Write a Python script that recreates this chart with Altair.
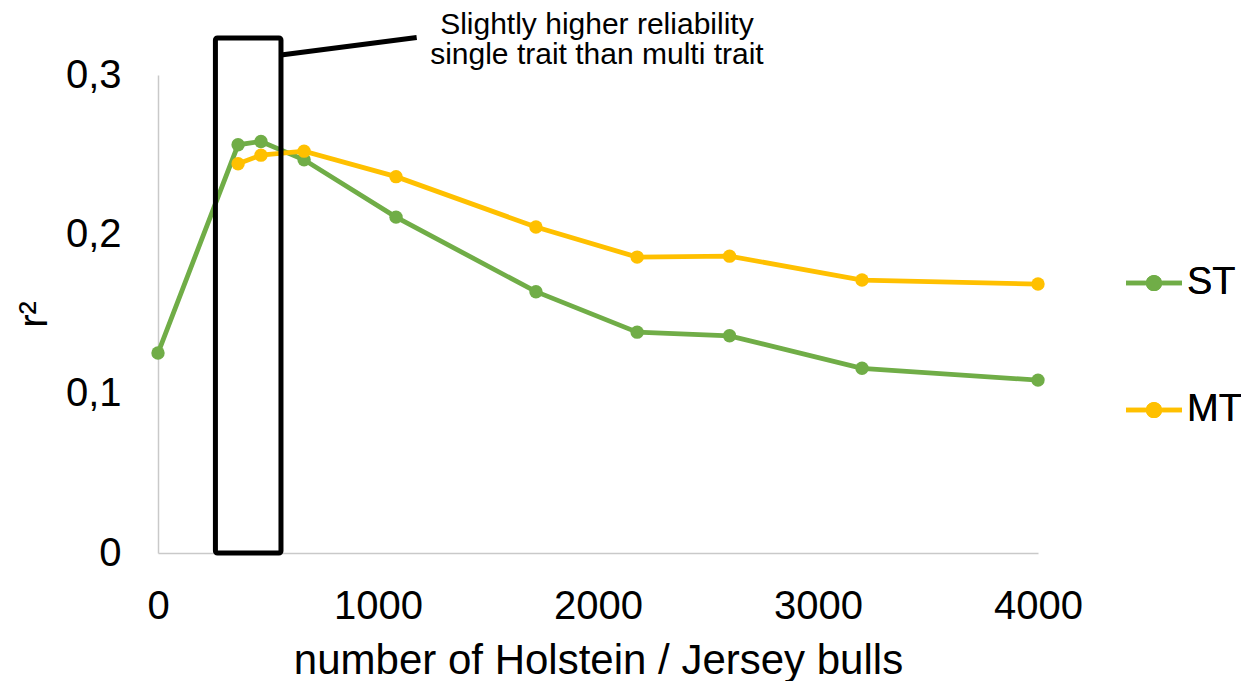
import altair as alt
import pandas as pd

# ---- data ----
bulls = [0, 364, 468, 664, 1082, 1718, 2178, 2598, 3200, 4000]
st_r2 = [0.1255, 0.2562, 0.2583, 0.2468, 0.2108, 0.164, 0.1386, 0.1363, 0.1159, 0.1085]
mt_bulls = [364, 468, 664, 1082, 1718, 2178, 2598, 3200, 4000]
mt_r2 = [0.2443, 0.2497, 0.2522, 0.2362, 0.2046, 0.1857, 0.1863, 0.1713, 0.1688]

series_names = ["ST", "MT"]
series_colors = ["#70AD47", "#FFC000"]

y_ticks = [0, 0.1, 0.2, 0.3]
x_ticks = [0, 1000, 2000, 3000, 4000]

# annotation (data units)
box_x = [261]
box_x2 = [559]
box_y = [0]
box_y2 = [0.3232]
callout_x = [559]
callout_x2 = [1176]
callout_y = [0.3126]
callout_y2 = [0.3235]
note_lines = ["Slightly higher reliability", "single trait than multi trait"]
note_x = [1995, 1995]
note_y = [0.3259, 0.3069]

FONT = "Liberation Sans"

df = pd.DataFrame(
    {"x": bulls + mt_bulls,
     "y": st_r2 + mt_r2,
     "series": ["ST"] * len(bulls) + ["MT"] * len(mt_bulls)}
)
box_df = pd.DataFrame({"x": box_x, "x2": box_x2, "y": box_y, "y2": box_y2})
callout_df = pd.DataFrame({"x": callout_x, "x2": callout_x2, "y": callout_y, "y2": callout_y2})
note_df = pd.DataFrame({"x": note_x, "y": note_y, "t": note_lines})

x_scale = alt.Scale(domain=[0, 4000], nice=False)
y_scale = alt.Scale(domain=[0, 0.3], nice=False, zero=True)
stroke_scale = alt.Scale(domain=series_names, range=series_colors)
fill_scale = alt.Scale(domain=series_names, range=series_colors)

x_enc = alt.X(
    "x:Q", scale=x_scale,
    axis=alt.Axis(
        values=x_ticks, format="d", title="number of Holstein / Jersey bulls",
        grid=False, ticks=False, domainColor="#c9c9c9", domainWidth=1.5,
        labelFont=FONT, labelFontSize=40, labelColor="black", labelPadding=33,
        labelFlush=False, labelOverlap=False,
        titleFont=FONT, titleFontSize=42, titleFontWeight="normal", titleColor="black",
        titleBaseline="alphabetic", titleY=120,
    ),
)
y_enc = alt.Y(
    "y:Q", scale=y_scale,
    axis=alt.Axis(
        values=y_ticks, title="r²",
        labelExpr="datum.value == 0 ? '0' : replace(format(datum.value, '.1f'), '.', ',')",
        grid=False, ticks=False, domainColor="#c9c9c9", domainWidth=1.5,
        labelFont=FONT, labelFontSize=40, labelColor="black", labelPadding=37,
        labelOverlap=False, labelFlush=False,
        titleFont=FONT, titleFontSize=40, titleFontWeight="normal", titleColor="black",
        titleAngle=270, titleBaseline="alphabetic", titleAlign="center",
        titleX=-112, titleY=239,
    ),
)

legend_path = (
    "M-1,-0.08L-0.29,-0.08L-0.29,0.08L-1,0.08Z "
    "M0.29,-0.08L1,-0.08L1,0.08L0.29,0.08Z "
    "M-0.29,0A0.29,0.29 0 1,0 0.29,0A0.29,0.29 0 1,0 -0.29,0Z"
)

layers = []
for name in series_names:
    sub = alt.Chart(df).transform_filter(alt.datum.series == name)
    line = sub.mark_line(strokeWidth=4.8).encode(
        x=x_enc, y=y_enc,
        stroke=alt.Stroke("series:N", scale=stroke_scale, legend=None),
    )
    pts = sub.mark_circle(size=180, opacity=1).encode(
        x=x_enc, y=y_enc,
        fill=alt.Fill(
            "series:N", scale=fill_scale,
            legend=alt.Legend(
                title=None, orient="none", legendX=968, legendY=180,
                symbolType=legend_path, symbolSize=3136, symbolStrokeWidth=0,
                symbolOpacity=1, labelFont=FONT, labelFontSize=38, labelColor="black",
                labelOffset=5, rowPadding=80, labelLimit=200,
            ),
        ),
    )
    layers += [line, pts]

box = alt.Chart(box_df).mark_rect(
    fill="transparent", stroke="black", strokeWidth=5, cornerRadius=2
).encode(x=alt.X("x:Q", scale=x_scale), x2="x2:Q", y=alt.Y("y:Q", scale=y_scale), y2="y2:Q")

callout = alt.Chart(callout_df).mark_rule(color="black", strokeWidth=5).encode(
    x=alt.X("x:Q", scale=x_scale), x2="x2:Q", y=alt.Y("y:Q", scale=y_scale), y2="y2:Q"
)

note = alt.Chart(note_df).mark_text(
    font=FONT, fontSize=30, color="black", align="center", baseline="alphabetic"
).encode(x=alt.X("x:Q", scale=x_scale), y=alt.Y("y:Q", scale=y_scale), text="t:N")

chart = alt.layer(*layers, box, callout, note).resolve_scale(
    stroke="independent", fill="independent"
).properties(
    width=880, height=478,
    background="white",
    autosize=alt.AutoSizeParams(type="none"),
    padding={"left": 150, "top": 67, "right": 203, "bottom": 128},
).configure_view(strokeWidth=0)

chart.save("out.html", embed_options={"renderer": "svg", "actions": False})
